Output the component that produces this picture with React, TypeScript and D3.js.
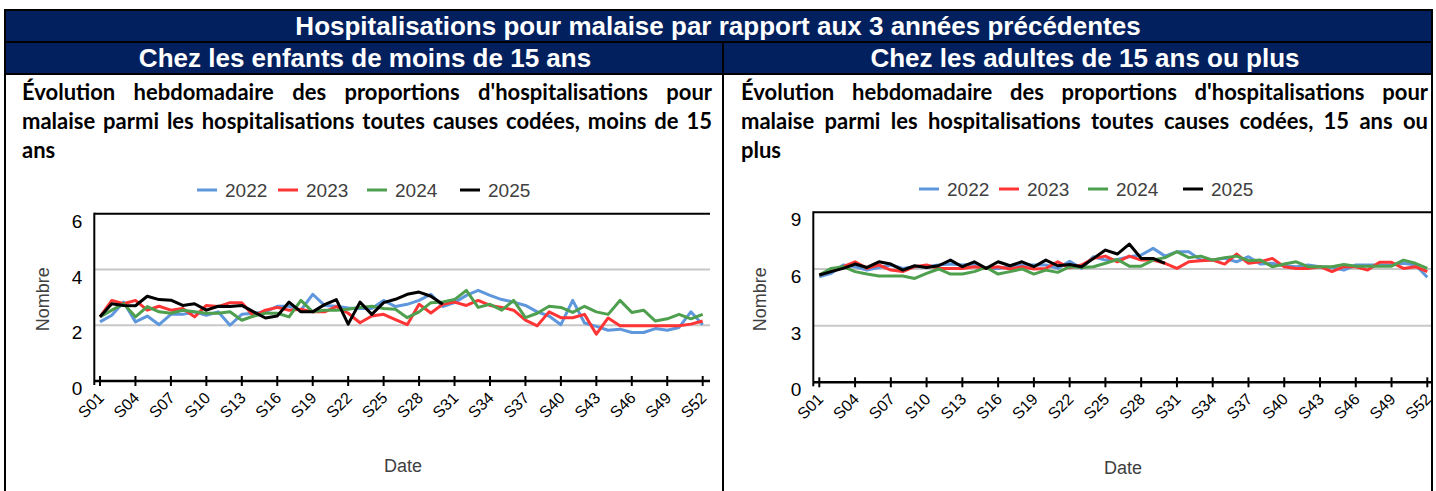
import React, { useLayoutEffect, useRef, useState } from "react";
import * as d3 from "d3";

// ---------- DATA ----------
const weeks: string[] = d3.range(1, 53).map((w) => "S" + String(w).padStart(2, "0"));
const tickWeeks: string[] = weeks.filter((_, i) => i % 3 === 0);
const years: string[] = ["2022", "2023", "2024", "2025"];
const yearColors: string[] = ["#5f97dc", "#ff3535", "#4e9f4e", "#000000"];

const kidsTicks: number[] = [0, 2, 4, 6];
const adultsTicks: number[] = [0, 3, 6, 9];

const kids2022: number[] = [2.12, 2.36, 2.83, 2.12, 2.33, 2.02, 2.39, 2.39, 2.48, 2.36, 2.48, 2.0, 2.39, 2.43, 2.48, 2.68, 2.68, 2.54, 3.11, 2.71, 2.68, 2.62, 2.6, 2.6, 2.89, 2.67, 2.75, 2.89, 3.11, 2.67, 2.81, 3.07, 3.25, 3.07, 2.92, 2.83, 2.71, 2.48, 2.33, 2.02, 2.89, 2.08, 1.96, 1.82, 1.86, 1.74, 1.74, 1.88, 1.82, 1.92, 2.48, 2.02];
const kids2023: number[] = [2.3, 2.89, 2.77, 2.89, 2.54, 2.68, 2.54, 2.6, 2.3, 2.71, 2.67, 2.81, 2.81, 2.33, 2.54, 2.64, 2.54, 2.57, 2.48, 2.48, 2.67, 2.43, 2.09, 2.33, 2.39, 2.2, 2.02, 2.75, 2.44, 2.75, 2.83, 2.71, 2.89, 2.71, 2.64, 2.54, 2.18, 1.98, 2.48, 2.27, 2.27, 2.39, 1.68, 2.26, 1.98, 1.98, 1.98, 1.98, 1.98, 1.98, 2.04, 2.15];
const kids2024: number[] = [2.3, 2.54, 2.77, 2.3, 2.67, 2.48, 2.43, 2.54, 2.48, 2.43, 2.43, 2.48, 2.18, 2.33, 2.43, 2.43, 2.3, 2.89, 2.48, 2.54, 2.54, 2.57, 2.64, 2.68, 2.6, 2.57, 2.27, 2.48, 2.81, 2.83, 2.92, 3.25, 2.64, 2.75, 2.54, 2.89, 2.27, 2.43, 2.68, 2.64, 2.46, 2.68, 2.48, 2.39, 2.89, 2.46, 2.54, 2.15, 2.23, 2.39, 2.23, 2.39];
const kids2025: number[] = [2.3, 2.77, 2.71, 2.7, 3.04, 2.92, 2.9, 2.71, 2.77, 2.54, 2.68, 2.67, 2.71, 2.48, 2.26, 2.33, 2.83, 2.48, 2.48, 2.74, 2.92, 2.04, 2.83, 2.39, 2.81, 2.93, 3.11, 3.19, 3.04, 2.75];

const adults2022: number[] = [5.59, 5.77, 6.21, 6.12, 5.94, 6.08, 6.21, 6.03, 6.12, 6.12, 6.21, 6.26, 6.21, 6.26, 6.03, 6.03, 6.12, 6.21, 6.21, 6.21, 6.03, 6.41, 6.03, 6.65, 6.47, 6.5, 6.65, 6.74, 7.09, 6.68, 6.91, 6.91, 6.47, 6.47, 6.56, 6.38, 6.65, 6.26, 6.3, 6.17, 6.12, 6.21, 6.12, 6.08, 5.94, 6.21, 6.21, 6.21, 6.21, 6.3, 6.21, 5.56];
const adults2023: number[] = [5.68, 5.94, 6.12, 6.38, 6.03, 6.21, 5.94, 5.86, 6.12, 6.21, 6.03, 6.03, 6.03, 6.12, 6.03, 6.12, 6.0, 6.12, 6.0, 6.03, 6.38, 6.06, 6.21, 6.56, 6.68, 6.38, 6.68, 6.47, 6.47, 6.3, 6.03, 6.38, 6.44, 6.47, 6.26, 6.79, 6.3, 6.38, 6.56, 6.12, 6.03, 6.03, 6.12, 5.86, 6.12, 6.12, 5.94, 6.35, 6.35, 6.03, 6.12, 5.86];
const adults2024: number[] = [5.68, 6.03, 6.12, 5.86, 5.73, 5.63, 5.63, 5.63, 5.5, 5.77, 6.0, 5.73, 5.73, 5.86, 6.08, 5.73, 5.86, 6.0, 5.73, 5.94, 5.82, 6.12, 6.08, 6.12, 6.3, 6.5, 6.15, 6.15, 6.47, 6.6, 6.91, 6.6, 6.68, 6.47, 6.6, 6.68, 6.44, 6.47, 6.12, 6.26, 6.38, 6.12, 6.12, 6.12, 6.24, 6.15, 6.15, 6.15, 6.15, 6.47, 6.3, 6.03];
const adults2025: number[] = [5.68, 5.86, 6.03, 6.26, 6.08, 6.38, 6.26, 5.94, 6.17, 6.08, 6.17, 6.47, 6.12, 6.38, 6.03, 6.38, 6.17, 6.38, 6.12, 6.47, 6.17, 6.24, 6.12, 6.56, 7.0, 6.79, 7.32, 6.56, 6.56, 6.3];

const mainTitle = "Hospitalisations pour malaise par rapport aux 3 années précédentes";
const kidsHeader = "Chez les enfants de moins de 15 ans";
const adultsHeader = "Chez les adultes de 15 ans ou plus";
const kidsSubtitle: string[] = [
  "Évolution hebdomadaire des proportions d'hospitalisations pour",
  "malaise parmi les hospitalisations toutes causes codées, moins de 15",
  "ans",
];
const adultsSubtitle: string[] = [
  "Évolution hebdomadaire des proportions d'hospitalisations pour",
  "malaise parmi les hospitalisations toutes causes codées, 15 ans ou",
  "plus",
];
const yTitle = "Nombre";
const xTitle = "Date";

// ---------- STYLE ----------
const NAVY = "#02205e";
const ARIAL = "'Liberation Sans', Arial, sans-serif";
const CALIBRI = "Lato, 'Open Sans', sans-serif";
const GREY_TEXT = "#404040";

function JustifiedLine({ x, y, width, text, justify }: { x: number; y: number; width: number; text: string; justify: boolean }) {
  const ref = useRef<SVGTextElement>(null);
  const [ws, setWs] = useState(0);
  useLayoutEffect(() => {
    if (!justify || !ref.current) return;
    const el = ref.current;
    el.setAttribute("word-spacing", "0");
    const natural = el.getComputedTextLength();
    const gaps = text.split(" ").length - 1;
    if (gaps > 0) setWs((width - natural) / gaps);
  }, [text, width, justify]);
  return (
    <text ref={ref} x={x} y={y} fontFamily={CALIBRI} fontWeight="bold" fontSize={22} fill="#000" wordSpacing={justify ? ws : 0}>
      {text}
    </text>
  );
}

interface PanelProps {
  subtitle: string[];
  textLeft: number;
  textRight: number;
  plotLeft: number;
  plotRight: number;
  plotTop: number;
  plotBottom: number;
  xStart: number;
  xEnd: number;
  yMax: number;
  yTicks: number[];
  series: number[][];
  legendX: number[];
  legendY: number;
  yTitleX: number;
  xTitleX: number;
  xTitleY: number;
}

function Panel(p: PanelProps) {
  const x = d3.scalePoint<string>().domain(weeks).range([p.xStart, p.xEnd]);
  const y = d3.scaleLinear().domain([0, p.yMax]).range([p.plotBottom, p.plotTop]);
  const line = d3
    .line<number>()
    .x((_, i) => x(weeks[i]) as number)
    .y((d) => y(d));
  return (
    <g>
      {p.subtitle.map((t, i) => (
        <JustifiedLine key={i} x={p.textLeft} y={100 + i * 29} width={p.textRight - p.textLeft} text={t} justify={i < p.subtitle.length - 1} />
      ))}
      {/* legend */}
      {years.map((yr, i) => (
        <g key={yr} transform={`translate(${p.legendX[i]},${p.legendY})`}>
          <line x1={0} x2={20} y1={0} y2={0} stroke={yearColors[i]} strokeWidth={3} />
          <text x={28} y={7} fontFamily={ARIAL} fontSize={19} fill={GREY_TEXT}>
            {yr}
          </text>
        </g>
      ))}
      {/* gridlines */}
      {p.yTicks
        .filter((t) => t > 0 && t < p.yMax)
        .map((t) => (
          <line key={t} x1={p.plotLeft} x2={p.plotRight} y1={y(t)} y2={y(t)} stroke="#c8c8c8" strokeWidth={2} />
        ))}
      {/* series */}
      {p.series.map((s, i) => (
        <path key={i} d={line(s) || ""} fill="none" stroke={yearColors[i]} strokeWidth={3} strokeLinejoin="round" />
      ))}
      {/* frame */}
      <line x1={p.plotLeft} x2={p.plotRight} y1={p.plotTop} y2={p.plotTop} stroke="#000" strokeWidth={2} />
      <line x1={p.plotLeft} x2={p.plotLeft} y1={p.plotTop - 1} y2={p.plotBottom + 4} stroke="#000" strokeWidth={2} />
      <line x1={p.plotLeft} x2={p.plotRight} y1={p.plotBottom} y2={p.plotBottom} stroke="#000" strokeWidth={2.5} />
      {/* y tick labels */}
      {p.yTicks.map((t) => (
        <text key={t} x={p.plotLeft - 12} y={y(t) + 7.5} dy="0.35em" textAnchor="end" fontFamily={ARIAL} fontSize={19} fill="#000">
          {t}
        </text>
      ))}
      {/* x ticks */}
      {tickWeeks.map((w) => {
        const xx = x(w) as number;
        return (
          <g key={w}>
            <line x1={xx} x2={xx} y1={p.plotBottom - 5} y2={p.plotBottom + 5} stroke="#000" strokeWidth={2} />
            <text
              transform={`translate(${xx - 3},${p.plotBottom + 10}) rotate(-45)`}
              textAnchor="end"
              dy="0.7em"
              fontFamily={ARIAL}
              fontSize={16}
              fill="#000"
            >
              {w}
            </text>
          </g>
        );
      })}
      {/* axis titles */}
      <text
        transform={`translate(${p.yTitleX},${(p.plotTop + p.plotBottom) / 2 + 2}) rotate(-90)`}
        textAnchor="middle"
        dy="0.35em"
        fontFamily={ARIAL}
        fontSize={18}
        fill={GREY_TEXT}
      >
        {yTitle}
      </text>
      <text x={p.xTitleX} y={p.xTitleY} textAnchor="middle" dy="0.35em" fontFamily={ARIAL} fontSize={18} fill={GREY_TEXT}>
        {xTitle}
      </text>
    </g>
  );
}

export default function App() {
  const W = 1436;
  const H = 491;
  return (
    <svg width={W} height={H} style={{ position: "absolute", left: 0, top: 0, background: "#fff" }}>
      <rect x={0} y={0} width={W} height={H} fill="#fff" />
      {/* header */}
      <rect x={5} y={10} width={1427} height={32} fill={NAVY} />
      <rect x={5} y={42} width={1427} height={32} fill={NAVY} />
      <text x={718} y={26} dy="0.35em" textAnchor="middle" fontFamily={ARIAL} fontWeight="bold" fontSize={26} fill="#fff">
        {mainTitle}
      </text>
      <text x={365} y={58} dy="0.35em" textAnchor="middle" fontFamily={ARIAL} fontWeight="bold" fontSize={26} fill="#fff">
        {kidsHeader}
      </text>
      <text x={1085} y={58} dy="0.35em" textAnchor="middle" fontFamily={ARIAL} fontWeight="bold" fontSize={26} fill="#fff">
        {adultsHeader}
      </text>
      {/* borders */}
      <line x1={5} x2={1432} y1={42} y2={42} stroke="#000" strokeWidth={2} />
      <line x1={5} x2={1432} y1={74} y2={74} stroke="#000" strokeWidth={2} />
      <line x1={723} x2={723} y1={42} y2={H} stroke="#000" strokeWidth={2} />
      <rect x={5} y={10} width={1427} height={H} fill="none" stroke="#000" strokeWidth={2} />

      <Panel
        subtitle={kidsSubtitle}
        textLeft={22}
        textRight={712}
        plotLeft={94.3}
        plotRight={710}
        plotTop={213.7}
        plotBottom={381}
        xStart={100}
        xEnd={702.7}
        yMax={6}
        yTicks={kidsTicks}
        series={[kids2022, kids2023, kids2024, kids2025]}
        legendX={[197, 278, 367, 460]}
        legendY={190}
        yTitleX={43}
        xTitleX={403}
        xTitleY={466}
      />
      <Panel
        subtitle={adultsSubtitle}
        textLeft={741}
        textRight={1428}
        plotLeft={813.3}
        plotRight={1431}
        plotTop={212.3}
        plotBottom={382.3}
        xStart={819.3}
        xEnd={1427.3}
        yMax={9}
        yTicks={adultsTicks}
        series={[adults2022, adults2023, adults2024, adults2025]}
        legendX={[919, 999, 1088, 1183]}
        legendY={189}
        yTitleX={760}
        xTitleX={1123}
        xTitleY={468}
      />
    </svg>
  );
}
